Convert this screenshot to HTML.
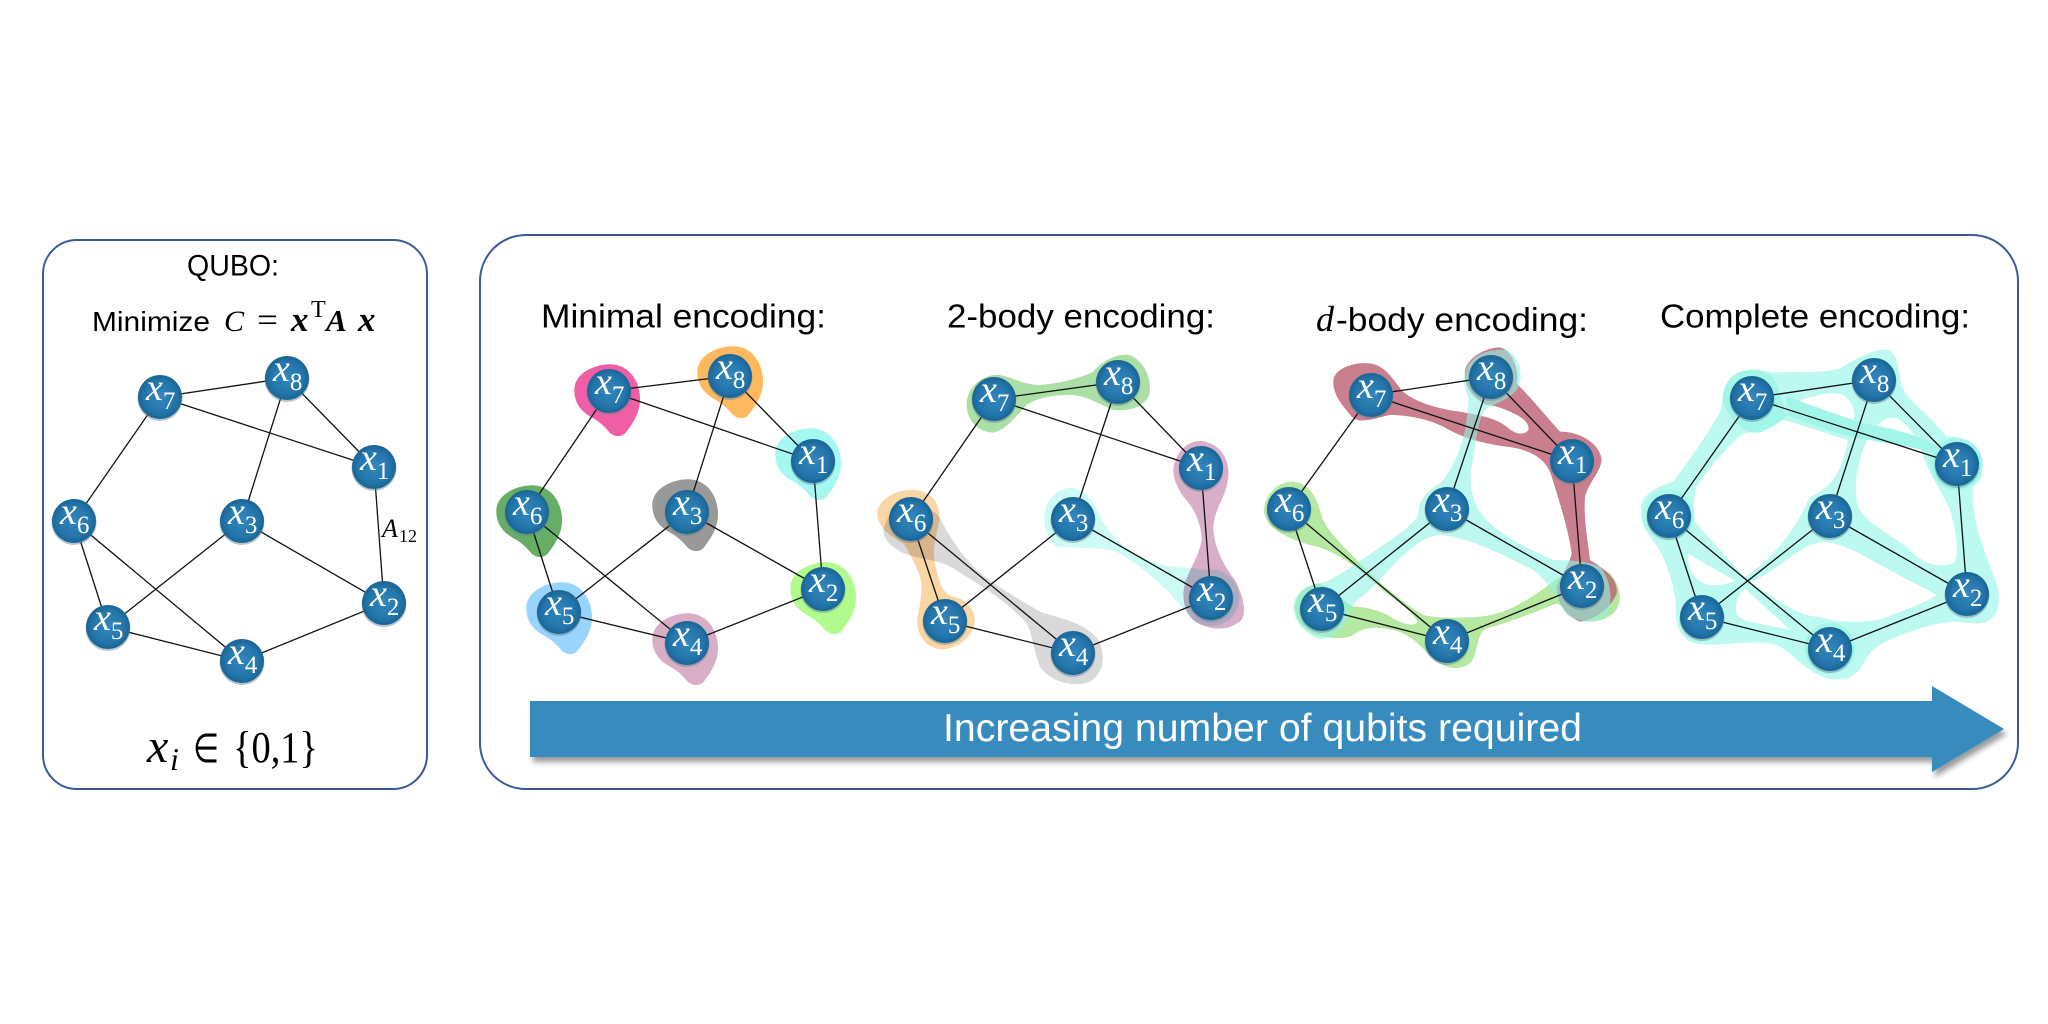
<!DOCTYPE html>
<html><head><meta charset="utf-8"><style>
html,body{margin:0;padding:0;background:#fff;width:2048px;height:1024px;overflow:hidden}
svg{display:block}
.t{font-family:"Liberation Sans",sans-serif;fill:#000}
.m{font-family:"Liberation Serif",serif;fill:#000}
.i{font-style:italic}
.b{font-weight:bold}
.n{font-family:"Liberation Serif",serif;font-style:italic;font-size:38px;fill:#fff}
.n tspan{font-size:25px;font-style:normal}
.e{stroke:#111;stroke-width:1.3;fill:none}
.mul{mix-blend-mode:multiply}
</style></head><body>
<svg width="2048" height="1024" viewBox="0 0 2048 1024" xmlns="http://www.w3.org/2000/svg">
<defs>
<radialGradient id="g" cx="50%" cy="50%" r="52%"><stop offset="0" stop-color="#3388bd"/><stop offset=".72" stop-color="#2374aa"/><stop offset="1" stop-color="#17628f"/></radialGradient>
<g id="c"><circle cy="1.5" r="22.5" fill="#5f7f92" opacity=".45"/><circle r="22" fill="url(#g)"/></g>
<path id="b" d="M-34.7,-2C-34,-18 -14,-27 2,-26.7C20,-26 31,-10 31,8C31,22 24,32 18,40C13,47 6,46 1,42C-4,36 -10,30 -18,26C-28,20 -35,12 -34.7,-2Z"/>
<filter id="sh" x="-5%" y="-20%" width="110%" height="150%"><feDropShadow dx="3" dy="5" stdDeviation="3" flood-color="#000" flood-opacity=".4"/></filter>
</defs>

<rect x="43" y="240" width="384" height="549" rx="34" fill="#fff" stroke="#3a5a9a" stroke-width="2"/>
<rect x="480" y="235" width="1538" height="554" rx="46" fill="#fff" stroke="#3a5a9a" stroke-width="2"/>

<text class="t" x="187" y="275.5" font-size="30" textLength="92" lengthAdjust="spacingAndGlyphs">QUBO:</text>
<text class="t" x="92" y="331" font-size="28" textLength="118" lengthAdjust="spacingAndGlyphs">Minimize</text>
<text class="m i" x="224" y="331" font-size="30">C</text>
<text class="m" x="257" y="331" font-size="34" textLength="21" lengthAdjust="spacingAndGlyphs">=</text>
<text class="m i b" x="291" y="331" font-size="35">x</text>
<text class="m" x="311" y="317" font-size="24">T</text>
<text class="m i b" x="326" y="331" font-size="31">A</text>
<text class="m i b" x="358" y="331" font-size="35">x</text>
<text class="m i" x="147" y="762" font-size="48">x</text>
<text class="m i" x="170" y="770" font-size="32">i</text>
<text class="m" x="193" y="762" font-size="40" style='font-family:"DejaVu Sans",sans-serif' textLength="26" lengthAdjust="spacingAndGlyphs">∈</text>
<text class="m" x="233" y="762" font-size="44" textLength="85" lengthAdjust="spacingAndGlyphs">{0,1}</text>
<text class="m i" x="382" y="537" font-size="26">A</text>
<text class="m" x="399" y="542" font-size="18">12</text>

<text class="t" x="541" y="327.5" font-size="33.5" textLength="285" lengthAdjust="spacingAndGlyphs">Minimal encoding:</text>
<text class="t" x="947" y="327.5" font-size="33.5" textLength="268" lengthAdjust="spacingAndGlyphs">2-body encoding:</text>
<text class="m i" x="1316" y="331" font-size="36">d</text>
<text class="t" x="1336" y="331" font-size="33.5" textLength="252" lengthAdjust="spacingAndGlyphs">-body encoding:</text>
<text class="t" x="1660" y="327.5" font-size="33.5" textLength="310" lengthAdjust="spacingAndGlyphs">Complete encoding:</text>

<!-- Minimal blobs -->
<use href="#b" transform="translate(609,391)" fill="#f05ea6"/>
<use href="#b" transform="translate(732,373)" fill="#feb95e"/>
<use href="#b" transform="translate(810,455)" fill="#a5f8ef"/>
<use href="#b" transform="translate(531,512)" fill="#66ae66"/>
<use href="#b" transform="translate(687,506)" fill="#999999"/>
<use href="#b" transform="translate(825,589)" fill="#b0fb8c"/>
<use href="#b" transform="translate(561,609)" fill="#98d4fd"/>
<use href="#b" transform="translate(687,640)" fill="#d8aec6"/>

<!-- 2-body blobs -->
<g transform="translate(860,340) scale(.33333)">
<path fill="#acdfa5" d="M320,190C322,140 370,100 420,105C460,112 490,135 540,135C600,130 660,115 700,95C730,60 770,40 810,45C860,70 875,120 868,165C850,205 800,215 760,210C720,195 680,165 630,165C570,165 530,175 500,195C470,225 440,270 400,278C350,275 320,240 320,190Z"/>
<g fill="#ccfaf4"><path d="M553,530C555,480 590,445 635,443C680,450 710,500 725,540C760,600 830,660 920,678C960,685 1000,680 1030,690L1040,850C1010,850 990,835 965,800C920,745 850,680 770,635C720,620 640,625 590,620C565,600 553,570 553,530Z"/><circle cx="1053" cy="773" r="85"/></g>
<path class="mul" fill="#d8aec8" d="M940,390C945,335 985,300 1025,303C1075,310 1110,350 1105,410C1100,470 1065,500 1060,560C1060,610 1085,670 1125,720C1150,770 1160,810 1145,840C1110,870 1070,870 1040,860C1000,850 970,820 970,760C975,700 1015,660 1025,600C1025,550 1000,500 970,470C950,440 940,415 940,390Z"/>
<path fill="#d9d9d9" d="M70,570C80,530 100,500 150,500C190,500 235,510 245,545C270,590 300,640 350,690C410,740 480,780 540,815C600,835 680,850 715,900C740,950 730,1000 690,1025C640,1045 570,1025 540,980C520,930 520,890 500,850C440,780 350,730 280,685C240,660 190,660 130,640C95,620 70,600 70,570Z"/>
<path class="mul" fill="#fbd6a5" d="M52,515C60,475 110,445 170,450C220,460 240,490 238,540C230,590 215,620 225,670C235,720 245,755 275,770C320,775 345,810 345,845C335,900 280,930 240,928C190,920 170,880 172,835C180,790 190,750 180,710C170,680 150,640 130,610C90,590 50,560 52,515Z"/>
</g>

<!-- d-body blobs -->
<g transform="translate(1260,340) scale(.33333)">
<path fill="#b5e8a0" d="M12,510C15,460 55,425 100,425C140,430 170,460 185,530C200,570 250,620 310,680C360,730 430,790 490,825C530,835 600,835 660,830C740,825 820,770 880,725C920,690 1000,670 1050,700C1085,740 1090,790 1060,820C1030,845 990,850 950,840C920,810 905,795 890,790C830,815 740,850 680,865C650,880 655,930 635,965C610,990 570,992 530,965C490,930 460,885 400,870C350,860 310,860 280,885C250,900 210,895 170,885C130,870 105,840 105,800C110,760 130,745 170,730C210,735 255,790 280,800C320,800 370,815 400,835C430,855 470,860 472,845C460,820 420,790 380,760C320,710 250,640 170,620C110,605 60,585 30,555C15,535 12,520 12,510Z"/>
<path fill="#bb5f70" opacity=".8" d="M220,120C225,85 280,65 330,70C370,75 395,110 420,145C450,180 520,205 600,215C650,225 700,230 740,260C760,280 790,290 805,270C810,250 785,230 760,220C730,205 700,195 680,195C630,170 610,130 615,90C625,50 680,22 720,22C760,30 780,100 770,130C800,160 860,230 900,275C960,275 1020,310 1025,360C1020,400 990,420 975,470C970,540 985,610 990,660C1040,690 1075,720 1070,760C1050,810 1000,840 960,845C920,830 890,790 890,740C900,710 930,670 935,640C925,570 900,490 875,410C860,360 820,330 740,320C660,310 600,290 550,260C500,235 440,225 390,225C340,235 310,250 280,235C240,190 218,160 220,120Z"/>
<path fill="#8ff3e4" opacity=".6" d="M615,100C625,50 680,25 740,30C780,50 795,110 770,150C740,185 690,195 675,210C650,250 650,300 635,380C625,440 640,500 680,540C730,590 810,630 880,660C910,660 970,660 1020,680C1055,720 1060,790 1040,825C1010,850 960,850 920,825C880,760 850,700 800,680C720,640 620,590 540,585C480,590 420,650 360,720C320,760 290,780 275,800C260,850 240,890 180,898C130,880 100,840 100,800C105,760 130,735 190,728C240,710 330,640 400,595C440,565 475,540 475,515C480,480 500,450 540,430C570,400 600,340 615,270C625,210 625,190 625,170C610,140 610,120 615,100Z"/>
</g>

<!-- Complete blobs -->
<g transform="translate(1630,340) scale(.33333)">
<path fill="#bcf9f1" fill-rule="evenodd" d="M278,170C285,115 320,90 370,88C400,90 420,100 440,97C500,95 590,100 630,85C670,60 720,30 770,28C800,35 805,80 810,110C815,150 830,170 860,195C890,225 930,265 950,290C990,285 1040,310 1050,360C1065,400 1055,420 1030,440C1025,470 1030,520 1045,580C1065,640 1085,690 1100,730C1115,790 1105,835 1060,848C1030,855 1000,845 970,845C910,850 850,870 790,895C750,910 720,930 700,970C680,1010 650,1020 610,1018C570,1015 530,985 490,950C450,915 430,905 380,908C320,905 230,925 180,905C140,880 135,840 138,790C130,730 110,660 75,610C45,570 25,540 35,490C45,460 90,435 130,425C170,370 230,290 270,215C275,195 278,180 278,170Z
M490,190C540,170 600,150 640,165C665,180 675,210 672,240C620,235 540,210 490,190Z
M200,440C240,380 300,310 340,280C380,280 400,250 440,235C520,255 600,285 655,300C640,370 620,430 560,460C540,470 535,480 530,490C510,540 460,610 420,650C390,680 360,700 345,712C300,660 240,600 195,545C190,510 190,470 200,440Z
M790,233C740,235 715,290 695,340C675,410 670,470 690,510C720,560 800,590 850,640C880,670 940,690 975,665C990,630 975,560 960,510C940,460 900,410 880,350C860,290 830,240 790,233Z
M570,607C620,600 690,640 760,680C820,715 880,740 920,765C890,785 830,810 760,835C700,850 640,850 560,830C500,825 460,790 390,745C370,735 360,730 365,725C420,700 480,650 520,625C535,615 555,610 570,607Z
M345,745C320,770 310,810 325,830C350,850 420,855 480,870C440,830 390,790 345,745Z
M175,640C170,680 190,725 240,735C270,738 300,730 315,722C270,695 220,670 175,640Z"/>
<g fill="#a2f5e9">
<path d="M278,170C285,115 320,90 370,88C410,92 430,110 440,130L470,230C430,260 400,280 370,278C330,270 285,230 278,170Z"/>
<circle cx="980" cy="372" r="78"/>
<circle cx="600" cy="925" r="76"/>
<path d="M470,170C530,190 620,225 700,250C790,265 870,285 930,325L900,340C860,320 790,315 720,300C640,290 560,260 470,225Z"/>
<circle cx="115" cy="525" r="78" opacity=".6"/>
</g>
</g>

<!-- Edges -->
<path class="e" d="M160 397L287 378L374 467L160 397M287 378L242 521M160 397L74 521M374 467L384 603M242 521L384 603M242 521L108 627M74 521L108 627M74 521L242 661M108 627L242 661L384 603"/>
<path class="e" d="M609 391L730 376L813 461L609 391M730 376L687 512M609 391L527 512M813 461L823 589M687 512L823 589M687 512L559 612M527 512L559 612M527 512L687 643M559 612L687 643L823 589"/>
<path class="e" d="M994 399L1118 382L1201 468L994 399M1118 382L1073 519M994 399L911 519M1201 468L1211 598M1073 519L1211 598M1073 519L945 621M911 519L945 621M911 519L1073 653M945 621L1073 653L1211 598"/>
<path class="e" d="M1371 395L1491 377L1572 461L1371 395M1491 377L1447 509M1371 395L1289 509M1572 461L1582 586M1447 509L1582 586M1447 509L1322 609M1289 509L1322 609M1289 509L1447 641M1322 609L1447 641L1582 586"/>
<path class="e" d="M1752 398L1874 380L1957 464L1752 398M1874 380L1830 516M1752 398L1669 516M1957 464L1967 594M1830 516L1967 594M1830 516L1702 617M1669 516L1702 617M1669 516L1830 649M1702 617L1830 649L1967 594"/>

<!-- Nodes: left -->
<g transform="translate(160,397)"><use href="#c"/><text class="n" x="-14" y="3">x<tspan dy="9">7</tspan></text></g>
<g transform="translate(287,378)"><use href="#c"/><text class="n" x="-14" y="3">x<tspan dy="9">8</tspan></text></g>
<g transform="translate(374,467)"><use href="#c"/><text class="n" x="-14" y="3">x<tspan dy="9">1</tspan></text></g>
<g transform="translate(74,521)"><use href="#c"/><text class="n" x="-14" y="3">x<tspan dy="9">6</tspan></text></g>
<g transform="translate(242,521)"><use href="#c"/><text class="n" x="-14" y="3">x<tspan dy="9">3</tspan></text></g>
<g transform="translate(384,603)"><use href="#c"/><text class="n" x="-14" y="3">x<tspan dy="9">2</tspan></text></g>
<g transform="translate(108,627)"><use href="#c"/><text class="n" x="-14" y="3">x<tspan dy="9">5</tspan></text></g>
<g transform="translate(242,661)"><use href="#c"/><text class="n" x="-14" y="3">x<tspan dy="9">4</tspan></text></g>
<!-- Nodes: minimal -->
<g transform="translate(609,391)"><use href="#c"/><text class="n" x="-14" y="3">x<tspan dy="9">7</tspan></text></g>
<g transform="translate(730,376)"><use href="#c"/><text class="n" x="-14" y="3">x<tspan dy="9">8</tspan></text></g>
<g transform="translate(813,461)"><use href="#c"/><text class="n" x="-14" y="3">x<tspan dy="9">1</tspan></text></g>
<g transform="translate(527,512)"><use href="#c"/><text class="n" x="-14" y="3">x<tspan dy="9">6</tspan></text></g>
<g transform="translate(687,512)"><use href="#c"/><text class="n" x="-14" y="3">x<tspan dy="9">3</tspan></text></g>
<g transform="translate(823,589)"><use href="#c"/><text class="n" x="-14" y="3">x<tspan dy="9">2</tspan></text></g>
<g transform="translate(559,612)"><use href="#c"/><text class="n" x="-14" y="3">x<tspan dy="9">5</tspan></text></g>
<g transform="translate(687,643)"><use href="#c"/><text class="n" x="-14" y="3">x<tspan dy="9">4</tspan></text></g>
<!-- Nodes: 2-body -->
<g transform="translate(994,399)"><use href="#c"/><text class="n" x="-14" y="3">x<tspan dy="9">7</tspan></text></g>
<g transform="translate(1118,382)"><use href="#c"/><text class="n" x="-14" y="3">x<tspan dy="9">8</tspan></text></g>
<g transform="translate(1201,468)"><use href="#c"/><text class="n" x="-14" y="3">x<tspan dy="9">1</tspan></text></g>
<g transform="translate(911,519)"><use href="#c"/><text class="n" x="-14" y="3">x<tspan dy="9">6</tspan></text></g>
<g transform="translate(1073,519)"><use href="#c"/><text class="n" x="-14" y="3">x<tspan dy="9">3</tspan></text></g>
<g transform="translate(1211,598)"><use href="#c"/><text class="n" x="-14" y="3">x<tspan dy="9">2</tspan></text></g>
<g transform="translate(945,621)"><use href="#c"/><text class="n" x="-14" y="3">x<tspan dy="9">5</tspan></text></g>
<g transform="translate(1073,653)"><use href="#c"/><text class="n" x="-14" y="3">x<tspan dy="9">4</tspan></text></g>
<!-- Nodes: d-body -->
<g transform="translate(1371,395)"><use href="#c"/><text class="n" x="-14" y="3">x<tspan dy="9">7</tspan></text></g>
<g transform="translate(1491,377)"><use href="#c"/><text class="n" x="-14" y="3">x<tspan dy="9">8</tspan></text></g>
<g transform="translate(1572,461)"><use href="#c"/><text class="n" x="-14" y="3">x<tspan dy="9">1</tspan></text></g>
<g transform="translate(1289,509)"><use href="#c"/><text class="n" x="-14" y="3">x<tspan dy="9">6</tspan></text></g>
<g transform="translate(1447,509)"><use href="#c"/><text class="n" x="-14" y="3">x<tspan dy="9">3</tspan></text></g>
<g transform="translate(1582,586)"><use href="#c"/><text class="n" x="-14" y="3">x<tspan dy="9">2</tspan></text></g>
<g transform="translate(1322,609)"><use href="#c"/><text class="n" x="-14" y="3">x<tspan dy="9">5</tspan></text></g>
<g transform="translate(1447,641)"><use href="#c"/><text class="n" x="-14" y="3">x<tspan dy="9">4</tspan></text></g>
<!-- Nodes: complete -->
<g transform="translate(1752,398)"><use href="#c"/><text class="n" x="-14" y="3">x<tspan dy="9">7</tspan></text></g>
<g transform="translate(1874,380)"><use href="#c"/><text class="n" x="-14" y="3">x<tspan dy="9">8</tspan></text></g>
<g transform="translate(1957,464)"><use href="#c"/><text class="n" x="-14" y="3">x<tspan dy="9">1</tspan></text></g>
<g transform="translate(1669,516)"><use href="#c"/><text class="n" x="-14" y="3">x<tspan dy="9">6</tspan></text></g>
<g transform="translate(1830,516)"><use href="#c"/><text class="n" x="-14" y="3">x<tspan dy="9">3</tspan></text></g>
<g transform="translate(1967,594)"><use href="#c"/><text class="n" x="-14" y="3">x<tspan dy="9">2</tspan></text></g>
<g transform="translate(1702,617)"><use href="#c"/><text class="n" x="-14" y="3">x<tspan dy="9">5</tspan></text></g>
<g transform="translate(1830,649)"><use href="#c"/><text class="n" x="-14" y="3">x<tspan dy="9">4</tspan></text></g>

<!-- Arrow -->
<path d="M530,701L1932,701L1932,686L2004,729L1932,772L1932,757L530,757Z" fill="#388bbd" filter="url(#sh)"/>
<text x="943" y="741" font-family="'Liberation Sans',sans-serif" font-size="39" fill="#fff" textLength="639" lengthAdjust="spacingAndGlyphs">Increasing number of qubits required</text>
</svg>
</body></html>
